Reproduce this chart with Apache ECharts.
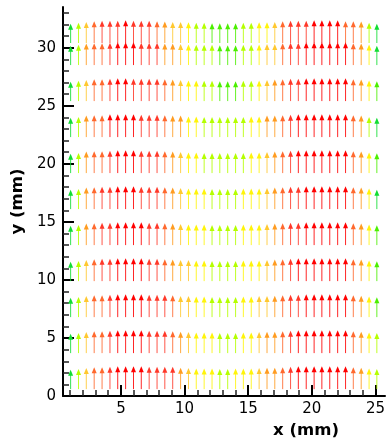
<!DOCTYPE html>
<html><head><meta charset="utf-8">
<script src="https://cdn.jsdelivr.net/npm/echarts@6/dist/echarts.min.js"></script>
<style>html,body{margin:0;padding:0;background:#fff}#c{width:388px;height:444px}</style>
</head><body><div id="c"></div>
<script>
// Column x positions (mm)
const xPositions = [1.05,1.67,2.28,2.90,3.52,4.14,4.75,5.37,5.99,6.60,7.22,7.84,8.45,9.07,9.69,10.31,10.92,11.54,12.16,12.77,13.39,14.01,14.62,15.24,15.86,16.48,17.09,17.71,18.33,18.94,19.56,20.18,20.79,21.41,22.03,22.65,23.26,23.88,24.50,25.11];
// Row y positions (mm), top to bottom
const rowY = [30.4, 28.5, 25.4, 22.3, 19.2, 16.1, 13.0, 9.9, 6.8, 3.7, 0.6];
// Vertical velocity per row (normalised)
const speedRow01 = [0.83,0.87,0.905,0.94,0.96,0.96,0.96,0.98,0.96,0.96,0.96,0.94,0.925,0.905,0.905,0.89,0.87,0.87,0.85,0.85,0.85,0.85,0.87,0.87,0.89,0.89,0.905,0.94,0.96,0.96,0.96,0.98,0.98,0.98,0.98,0.94,0.94,0.925,0.87,0.83];
const speedRow02 = [0.83,0.87,0.925,0.94,0.94,0.96,0.98,0.98,0.98,0.96,0.96,0.96,0.925,0.925,0.905,0.89,0.87,0.87,0.87,0.85,0.85,0.85,0.87,0.87,0.89,0.905,0.905,0.94,0.96,0.96,0.98,0.98,0.98,0.98,0.98,0.98,0.94,0.925,0.89,0.83];
const speedRow03 = [0.83,0.87,0.905,0.94,0.94,0.96,0.98,0.98,0.96,0.96,0.96,0.96,0.94,0.925,0.905,0.89,0.89,0.87,0.87,0.85,0.85,0.85,0.87,0.87,0.89,0.905,0.925,0.94,0.96,0.96,0.98,0.98,0.98,0.98,0.98,0.98,0.94,0.925,0.89,0.85];
const speedRow04 = [0.83,0.87,0.925,0.94,0.94,0.98,0.98,0.98,0.98,0.96,0.96,0.96,0.94,0.925,0.925,0.89,0.89,0.87,0.87,0.87,0.87,0.87,0.87,0.89,0.89,0.925,0.925,0.94,0.96,0.98,0.98,0.98,0.98,0.98,0.98,0.98,0.94,0.925,0.87,0.83];
const speedRow05 = [0.83,0.87,0.925,0.94,0.94,0.96,0.98,0.98,0.98,0.96,0.96,0.96,0.94,0.925,0.905,0.89,0.89,0.87,0.87,0.87,0.87,0.87,0.87,0.89,0.89,0.905,0.925,0.94,0.96,0.98,0.98,0.98,0.98,0.98,0.98,0.98,0.94,0.925,0.89,0.85];
const speedRow06 = [0.83,0.87,0.925,0.94,0.96,0.96,0.98,0.98,0.98,0.96,0.96,0.96,0.94,0.925,0.905,0.89,0.89,0.89,0.87,0.87,0.87,0.87,0.89,0.89,0.89,0.905,0.925,0.94,0.96,0.96,0.98,0.98,0.98,0.98,0.98,0.98,0.94,0.925,0.89,0.83];
const speedRow07 = [0.83,0.87,0.925,0.94,0.96,0.96,0.98,0.98,0.98,0.98,0.96,0.96,0.94,0.925,0.905,0.89,0.89,0.89,0.87,0.87,0.87,0.87,0.89,0.89,0.89,0.905,0.925,0.94,0.96,0.96,0.98,0.98,0.98,0.98,0.98,0.98,0.94,0.925,0.89,0.85];
const speedRow08 = [0.83,0.87,0.905,0.94,0.96,0.96,0.98,0.98,0.98,0.98,0.96,0.96,0.94,0.925,0.905,0.905,0.89,0.89,0.87,0.87,0.87,0.87,0.89,0.89,0.89,0.905,0.925,0.94,0.96,0.98,0.98,0.98,0.98,0.98,0.98,0.98,0.94,0.925,0.89,0.85];
const speedRow09 = [0.83,0.87,0.905,0.94,0.94,0.96,0.98,0.98,0.98,0.98,0.96,0.96,0.96,0.94,0.905,0.905,0.89,0.89,0.87,0.87,0.87,0.87,0.89,0.89,0.905,0.905,0.925,0.94,0.96,0.96,0.98,0.98,0.98,0.98,0.98,0.98,0.94,0.925,0.89,0.85];
const speedRow10 = [0.83,0.87,0.905,0.94,0.94,0.96,0.98,0.98,0.98,0.98,0.96,0.96,0.96,0.94,0.925,0.905,0.89,0.89,0.89,0.87,0.87,0.87,0.89,0.89,0.905,0.925,0.925,0.94,0.96,0.98,0.98,0.98,0.98,0.98,0.98,0.98,0.94,0.925,0.89,0.87];
const speedRow11 = [0.83,0.87,0.905,0.94,0.94,0.96,0.98,0.98,0.98,0.98,0.96,0.96,0.96,0.96,0.925,0.905,0.89,0.89,0.89,0.87,0.87,0.89,0.89,0.89,0.905,0.925,0.925,0.94,0.96,0.98,0.98,0.98,0.98,0.98,0.98,0.98,0.94,0.925,0.89,0.87];
const speedRows = [speedRow01, speedRow02, speedRow03, speedRow04, speedRow05, speedRow06, speedRow07, speedRow08, speedRow09, speedRow10, speedRow11];

// Axis ticks
const xMajorTicks = [5, 10, 15, 20, 25];
const xMinorTicks = [1,2,3,4,6,7,8,9,11,12,13,14,16,17,18,19,21,22,23,24];
const yMajorTicks = [0, 5, 10, 15, 20, 25, 30];
const yMinorTicks = [1,2,3,4,6,7,8,9,11,12,13,14,16,17,18,19,21,22,23,24,26,27,28,29,31,32,33];

// Colour scale (low -> high speed)
const colorScale = ['#11dd33','#44ee00','#aaff00','#ffff00','#ffc830','#ffa020','#ff6030','#ff3528','#ff0000'];
const SPEED_MIN = 0.83, SPEED_MAX = 0.98;
const ARROW_SCALE = 2.0; // mm of arrow per unit speed

const data = [];
rowY.forEach((y, r) => {
  xPositions.forEach((x, i) => { data.push([x, y, speedRows[r][i]]); });
});

const font = 'DejaVu Sans';
const X_MIN = 0.45, X_MAX = 25.75, Y_MIN = 0, Y_MAX = 33.5;

const chart = echarts.init(document.getElementById('c'), null, {renderer: 'canvas'});
chart.setOption({
  animation: false,
  backgroundColor: '#fff',
  grid: {left: 63, right: -2, top: 7, bottom: 42},
  visualMap: {
    show: false, type: 'continuous', dimension: 2, seriesIndex: 0,
    min: SPEED_MIN, max: SPEED_MAX, inRange: {color: colorScale}
  },
  xAxis: [{
    type: 'value', min: X_MIN, max: X_MAX, position: 'bottom',
    name: 'x (mm)', nameLocation: 'middle', nameGap: 18,
    nameTextStyle: {fontFamily: font, fontWeight: 'bold', fontSize: 16.5, color: '#000', padding: [0, 0, 0, 164]},
    axisLine: {show: true, onZero: false, lineStyle: {color: '#000', width: 2}},
    axisTick: {show: true, inside: true, length: 11, customValues: xMajorTicks, lineStyle: {color: '#000', width: 2}},
    axisLabel: {show: true, customValues: xMajorTicks, margin: 6, fontFamily: font, fontSize: 15, color: '#000'},
    splitLine: {show: false}
  }, {
    type: 'value', min: X_MIN, max: X_MAX, position: 'bottom',
    axisLine: {show: false},
    axisTick: {show: true, inside: true, length: 6, customValues: xMinorTicks, lineStyle: {color: '#222', width: 1.5}},
    axisLabel: {show: false},
    splitLine: {show: false}
  }],
  yAxis: [{
    type: 'value', min: Y_MIN, max: Y_MAX, position: 'left',
    name: 'y (mm)', nameLocation: 'middle', nameGap: 34, nameRotate: 90,
    nameTextStyle: {fontFamily: font, fontWeight: 'bold', fontSize: 16.5, color: '#000'},
    axisLine: {show: true, onZero: false, lineStyle: {color: '#000', width: 2}},
    axisTick: {show: true, inside: true, length: 11, customValues: yMajorTicks, lineStyle: {color: '#000', width: 2}},
    axisLabel: {show: true, customValues: yMajorTicks, margin: 7, fontFamily: font, fontSize: 15, color: '#000'},
    splitLine: {show: false}
  }, {
    type: 'value', min: Y_MIN, max: Y_MAX, position: 'left', offset: 0,
    axisLine: {show: false},
    axisTick: {show: true, inside: true, length: 6, customValues: yMinorTicks, lineStyle: {color: '#222', width: 1.5}},
    axisLabel: {show: false},
    splitLine: {show: false}
  }],
  series: [{
    type: 'custom',
    xAxisIndex: 0, yAxisIndex: 0,
    clip: false,
    data: data,
    encode: {x: 0, y: 1},
    renderItem: function (params, api) {
      const x = api.value(0), y = api.value(1), v = api.value(2);
      const tail = api.coord([x, y]);
      const tip = api.coord([x, y + v * ARROW_SCALE]);
      const color = api.visual('color');
      const headH = 6, headW = 2.5;
      return {
        type: 'group',
        children: [
          {type: 'line', shape: {x1: tail[0], y1: tail[1], x2: tip[0], y2: tip[1] + headH - 1},
           style: {stroke: color, lineWidth: 1, opacity: 0.85}},
          {type: 'polygon', shape: {points: [[tip[0], tip[1]], [tip[0] - headW, tip[1] + headH], [tip[0] + headW, tip[1] + headH]]},
           style: {fill: color}}
        ]
      };
    }
  }]
});
</script>
</body></html>
